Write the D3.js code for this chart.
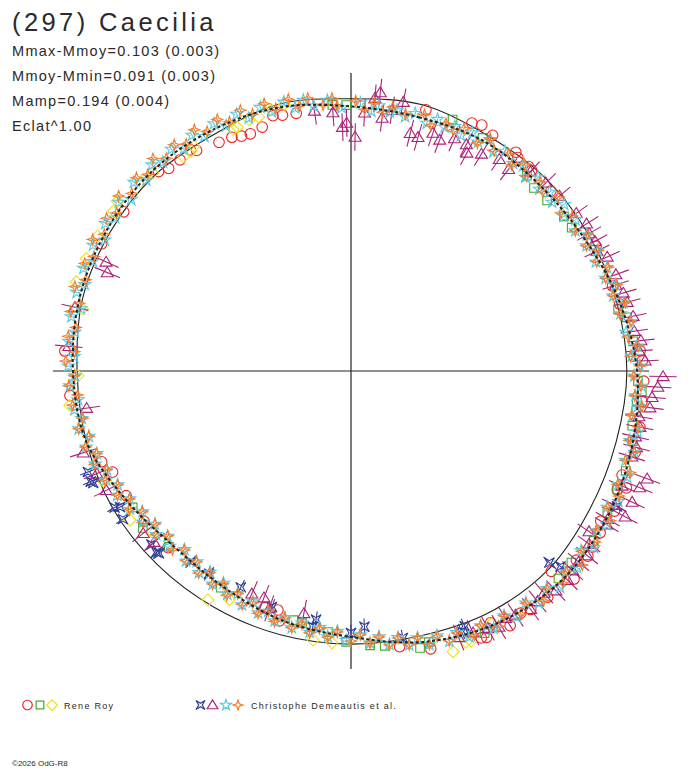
<!DOCTYPE html>
<html lang="en">
	<head>
		<meta charset="utf-8">
		<title>(297) Caecilia</title>
		<script src="https://d3js.org/d3.v7.min.js"></script>
		<style type="text/css">
		body { margin: 0; background: white; }
		text { font-family: "Liberation Sans", Arial, sans-serif; fill: #2a2a2a; }
		</style>
	</head>
	<body>
		<script type="text/javascript">

		//Width and height
		var w = 688;
		var h = 768;
		var cx = 351, cy = 371;

		// header texts
		var title = "(297) Caecilia";
		var infoLines = ["Mmax-Mmoy=0.103 (0.003)", "Mmoy-Mmin=0.091 (0.003)", "Mamp=0.194 (0.004)", "Eclat^1.00"];

		// phase (deg, clockwise from top) and relative radius (1 = reference circle)
		var curvePhase = [0,15,30,45,60,75,90,105,120,135,150,165,180,195,210,225,240,255,270,285,300,315,330,345];
		var fitR =   [0.962,0.955,0.965,0.963,0.975,1.007,1.040,1.058,1.073,1.080,1.060,1.020,0.967,0.942,0.913,0.906,0.942,0.996,1.011,1.022,1.025,1.025,1.011,0.993];
		var circleR = [0.990,1.002,0.990,0.996,0.996,0.998,1.003,0.998,1.003,1.018,1.012,0.996,0.993,0.993,0.993,0.996,1.000,0.996,0.996,1.011,1.011,1.008,0.994,1.005];

		// observers
		var redCircles = [[16,.988],[26,1.003],[28,1.013],[31,1.000],[37,.996],[38,.985],[41,.985],[42,.982],[48,.978],[63,1.000],[72,1.000],[76,1.007],[86,1.054],[88,1.060],[92,1.065],[96,1.064],[101,1.070],[106,1.075],[111,1.056],[113,1.088],[114,1.060],[118,1.085],[121,1.060],[123,1.080],[126,1.088],[128,1.093],[130,1.070],[133,1.109],[135,1.030],[139,1.090],[143,1.086],[145,1.075],[148,1.092],[151,1.047],[152,1.060],[153,1.087],[154,1.080],[164,1.051],[170,1.018],[196,.945],[197,.909],[200,.916],[226,.925],[234,.930],[241,.935],[247,.942],[250,.965],[265,1.026],[274,1.043],[297,1.018],[305,1.009],[316,1.008],[318,.991],[321,.988],[324,.994],[325,.979],[330,.960],[333,.954],[335,.942],[337,.937],[340,.944],[343,.971],[345,.963],[348,.958]];
		var greenSquares = [[356,.970],[359,.967],[22,.986],[29.5,.974],[42,.956],[45,.941],[49,.945],[54,.957],[57,.957],[77,.997],[79,1.022],[84,1.032],[92,1.044],[94,1.060],[96,1.045],[98,1.047],[101,1.042],[104,1.056],[110,1.063],[114,1.060],[119,1.066],[125,1.077],[131,1.062],[133,1.068],[135,1.067],[153,1.070],[164,1.026],[166,1.038],[173,1.007],[176,1.000],[181,.985],[185,.953],[191,.934],[193,.930],[211,.919],[226,.921],[233,.948],[238,.936]];
		var yellowDiamonds = [[346,1.000],[343,.993],[340,.983],[338,.986],[335,.978],[334,.977],[324,.989],[325,.997],[322,.989],[315,1.018],[312,1.028],[306,1.050],[304,1.041],[298,1.044],[293,1.046],[288,1.050],[283,1.002],[269,.993],[263,1.030],[246,.985],[236,.969],[231,.930],[212,.982],[208,.941],[188,.988],[184,.991],[160,1.086],[157,1.071],[156,1.075],[151,1.052]];
		var blueStars4 = [[249,1.025],[247,1.028],[246.5,1.022],[240,.993],[239.5,.975],[237,.989],[229,.962],[227,.967],[226.5,.963],[220,.905],[215,.900],[207,.883],[198.5,.905],[188,.913],[188.5,.940],[180,.953],[177,.931],[169,.989],[157,1.029],[156,1.016],[134,1.003],[133,1.042],[117,1.086]];
		var purpleTriangles = [[352,.955],[356,.942],[358,.887],[359,.902],[1,.851],[3,.940],[6,1.018],[5,.996],[7,.927],[9,.960],[11,.996],[14,.891],[16,.884],[19,.915],[21,.900],[24,.925],[27,.924],[28,.898],[31,.921],[35,.940],[38,.931],[42,.975],[46,.985],[50,.990],[55,1.000],[58,1.010],[60,1.000],[62,1.005],[64,.995],[66,1.020],[70,1.025],[72,1.012],[74,1.030],[76,1.035],[79,1.045],[82,1.040],[84,1.060],[86,1.050],[88,1.070],[91,1.135],[93,1.117],[95,1.099],[97,1.095],[99,1.060],[101,1.070],[103,1.062],[105,1.075],[107,1.068],[110,1.146],[112,1.132],[113,1.070],[115,1.128],[117,1.075],[118,1.129],[120,1.078],[121,1.085],[124,1.044],[126,1.070],[128,1.090],[130,1.080],[132,1.085],[134,1.095],[137,1.092],[139,1.070],[141,1.078],[143,1.085],[146,1.070],[148,1.060],[150,1.075],[152,1.060],[155,1.050],[158,1.045],[191,.898],[199,.913],[201,.883],[204,.887],[229,.949],[232,.959],[244,.990],[248,.997],[253,1.018],[262,.971],[275,1.030],[283,1.030],[292,.956],[294,.975]];
		var cyanStars = [[2,.975],[4.5,.948],[6,.970],[8.5,.952],[10,.962],[12,.946],[14,.965],[17,.942],[19,.968],[21,.950],[23,.966],[25,.945],[27,.972],[29,.952],[31,.982],[33,.950],[35,.976],[38,.958],[40,.975],[42,.948],[44,.980],[46,.952],[48,.972],[50,.955],[52,.984],[54,.956],[56,.985],[58,.962],[60,.990],[62,.970],[64,.998],[66,.975],[68,1.004],[70,.985],[72,1.012],[74,.992],[76,1.022],[78,1.002],[80,1.032],[82,1.010],[85,1.044],[87,1.022],[89,1.050],[91,1.030],[93,1.058],[95,1.038],[97,1.052],[99,1.036],[102,1.066],[104,1.046],[106,1.072],[108,1.050],[111,1.076],[113,1.056],[116,1.082],[118,1.055],[121,1.085],[123,1.066],[126,1.092],[128,1.062],[131,1.090],[133,1.070],[136,1.094],[138,1.064],[141,1.086],[143,1.056],[146,1.080],[148,1.050],[151,1.070],[153,1.040],[156,1.058],[158,1.026],[160,1.046],[162,1.012],[164,1.034],[166,1.000],[168,1.018],[170,.984],[172,1.004],[174,.972],[176,.992],[178,.960],[181,.980],[183,.948],[185,.970],[187,.940],[189,.962],[191,.934],[193,.958],[195,.928],[197,.950],[199,.924],[201,.942],[203,.912],[205,.938],[207,.908],[209,.928],[211,.900],[213,.924],[215,.893],[217,.918],[219,.892],[221,.915],[223,.888],[226,.918],[228,.898],[230,.925],[232,.905],[234,.935],[236,.915],[238,.948],[240,.930],[242,.963],[244,.944],[246,.975],[248,.957],[250,.990],[252,.972],[254,1.002],[256,.982],[258,1.012],[260,.994],[262,1.016],[264,.998],[267,1.024],[269,1.004],[271,1.028],[273,1.008],[276,1.032],[278,1.014],[281,1.036],[283,1.008],[286,1.038],[288,1.018],[291,1.042],[293,1.020],[296,1.044],[298,1.014],[301,1.042],[303,1.022],[306,1.044],[308,1.014],[311,1.046],[313,1.018],[316,1.042],[318,1.022],[321,1.038],[323,1.010],[326,1.034],[328,1.006],[331,1.028],[333,1.000],[336,1.022],[338,.992],[341,1.014],[343,.986],[346,1.008],[348,.978],[350,1.000],[352,.973],[355,.988],[358,.958]];
		var orangeStars4 = [[1,.982],[3,.952],[5,.978],[7,.948],[9,.972],[12,.955],[16,.970],[18,.940],[21,.964],[23,.950],[25,.972],[29,.948],[31,.984],[33,.956],[36,.976],[38,.950],[40,.982],[42,.954],[45,.972],[47,.954],[50,.984],[53,.956],[55,.982],[58,.962],[60,.994],[62,.970],[64,1.000],[66,.978],[68,1.008],[70,.986],[72,1.016],[74,.992],[76,1.028],[78,1.000],[80,1.034],[83,1.016],[85,1.048],[87,1.018],[89,1.052],[91,1.028],[93,1.056],[95,1.036],[97,1.066],[99,1.033],[101,1.064],[104,1.043],[106,1.072],[108,1.050],[110,1.080],[113,1.054],[115,1.076],[118,1.058],[120,1.088],[123,1.063],[125,1.084],[128,1.066],[130,1.098],[133,1.070],[135,1.090],[138,1.066],[140,1.090],[143,1.058],[145,1.078],[148,1.050],[150,1.072],[153,1.038],[155,1.060],[158,1.028],[160,1.044],[162,1.014],[164,1.034],[166,1.000],[168,1.018],[170,.986],[172,1.006],[174,.973],[176,.992],[178,.960],[180,.982],[183,.950],[185,.972],[187,.943],[189,.964],[191,.936],[193,.958],[195,.930],[197,.952],[199,.922],[201,.944],[203,.916],[205,.936],[207,.908],[209,.932],[211,.903],[213,.924],[215,.896],[217,.920],[219,.893],[221,.914],[223,.890],[225,.918],[228,.896],[230,.926],[232,.904],[234,.936],[236,.916],[238,.950],[240,.930],[242,.962],[244,.944],[246,.978],[248,.958],[250,.992],[252,.973],[254,1.004],[256,.983],[258,1.012],[260,.990],[263,1.020],[265,.998],[267,1.028],[269,1.006],[272,1.038],[274,1.008],[277,1.036],[279,1.013],[282,1.042],[284,1.018],[287,1.050],[289,1.020],[292,1.044],[294,1.023],[297,1.054],[299,1.026],[302,1.048],[304,1.028],[307,1.058],[309,1.026],[312,1.050],[314,1.028],[317,1.056],[319,1.024],[322,1.044],[324,1.020],[327,1.046],[329,1.016],[332,1.036],[334,1.008],[337,1.030],[339,1.000],[342,1.022],[344,.993],[347,1.014],[349,.983],[351,1.004],[354,.973],[356,.994],[357,.966]];

		var observerNames = ["Rene Roy", "Christophe Demeautis et al."];

		var angle = d3.scaleLinear().domain([0, 360]).range([0, 2 * Math.PI]);
		var radius = d3.scaleLinear().domain([0, 1]).range([0, 275]);
		var axisMax = 1.084;

		// marker shapes
		var symAstroid = { draw: function(c, size) {
			var s = Math.sqrt(size), k = 0.4 * s;
			c.moveTo(-s, -s); c.lineTo(0, -k); c.lineTo(s, -s); c.lineTo(k, 0);
			c.lineTo(s, s); c.lineTo(0, k); c.lineTo(-s, s); c.lineTo(-k, 0); c.closePath();
		}};
		var symSparkle = { draw: function(c, size) {
			var s = Math.sqrt(size), k = 0.25 * s;
			c.moveTo(0, -s); c.lineTo(k, -k); c.lineTo(s, 0); c.lineTo(k, k);
			c.lineTo(0, s); c.lineTo(-k, k); c.lineTo(-s, 0); c.lineTo(-k, -k); c.closePath();
		}};
		var symTri = { draw: function(c, size) {
			var s = Math.sqrt(size);
			c.moveTo(0, -s * 0.95); c.lineTo(s, s * 0.7); c.lineTo(-s, s * 0.7); c.closePath();
		}};
		var symDiamond = { draw: function(c, size) {
			var s = Math.sqrt(size);
			c.moveTo(0, -s); c.lineTo(s, 0); c.lineTo(0, s); c.lineTo(-s, 0); c.closePath();
		}};
		var symSquare = { draw: function(c, size) {
			var s = Math.sqrt(size);
			c.rect(-s, -s, 2 * s, 2 * s);
		}};
		var symCircle = { draw: function(c, size) {
			var s = Math.sqrt(size);
			c.moveTo(s, 0); c.arc(0, 0, s, 0, 2 * Math.PI);
		}};

		var series = [
			{ data: redCircles, type: symCircle, size: 5.3 * 5.3, color: "#ee2222", err: 0 },
			{ data: greenSquares, type: symSquare, size: 4.3 * 4.3, color: "#44aa33", err: 0 },
			{ data: yellowDiamonds, type: symDiamond, size: 6 * 6, color: "#eee020", err: 0 },
			{ data: blueStars4, type: symAstroid, size: 5 * 5, color: "#2f3f99", err: 0.03 },
			{ data: purpleTriangles, type: symTri, size: 6 * 6, color: "#aa2277", err: 0.05 },
			{ data: cyanStars, type: d3.symbolStar, size: 45, color: "#5ec8dc", err: 0.012 },
			{ data: orangeStars4, type: symSparkle, size: 5.5 * 5.5, color: "#f57a25", err: 0.008 }
		];

		//Create SVG element
		var svg = d3.select("body")
			.append("svg")
			.attr("width", w)
			.attr("height", h);

		// title and stats
		svg.append("text")
			.attr("x", 12).attr("y", 31)
			.style("font-size", "25.5px")
			.style("letter-spacing", "3.4px")
			.text(title);

		svg.selectAll("text.info")
			.data(infoLines)
			.enter()
			.append("text")
			.attr("class", "info")
			.attr("x", 12)
			.attr("y", function(d, i) { return 56 + i * 25; })
			.style("font-size", "14.5px")
			.style("letter-spacing", "1.3px")
			.text(function(d) { return d; });

		var plot = svg.append("g").attr("transform", "translate(" + cx + "," + cy + ")");

		// axes
		plot.append("line")
			.attr("x1", -radius(axisMax)).attr("x2", radius(axisMax))
			.attr("y1", 0).attr("y2", 0)
			.attr("stroke", "#222").attr("stroke-width", 1.2);
		plot.append("line")
			.attr("y1", -radius(axisMax)).attr("y2", radius(axisMax))
			.attr("x1", 0).attr("x2", 0)
			.attr("stroke", "#222").attr("stroke-width", 1.2);

		// reference circle
		var radialLine = d3.lineRadial()
			.angle(function(d, i) { return angle(curvePhase[i]); })
			.radius(function(d) { return radius(d); })
			.curve(d3.curveCardinalClosed);
		plot.append("path")
			.attr("d", radialLine(circleR))
			.attr("fill", "none")
			.attr("stroke", "#222")
			.attr("stroke-width", 1.1);

		// observations
		series.forEach(function(s) {
			var g = plot.append("g");
			if (s.err > 0) {
				g.selectAll("line")
					.data(s.data)
					.enter()
					.append("line")
					.attr("x1", function(d) { return d3.pointRadial(angle(d[0]), radius(d[1] - s.err))[0]; })
					.attr("y1", function(d) { return d3.pointRadial(angle(d[0]), radius(d[1] - s.err))[1]; })
					.attr("x2", function(d) { return d3.pointRadial(angle(d[0]), radius(d[1] + s.err))[0]; })
					.attr("y2", function(d) { return d3.pointRadial(angle(d[0]), radius(d[1] + s.err))[1]; })
					.attr("stroke", s.color)
					.attr("stroke-width", 1.1);
			}
			g.selectAll("path")
				.data(s.data)
				.enter()
				.append("path")
				.attr("transform", function(d) {
					return "translate(" + d3.pointRadial(angle(d[0]), radius(d[1])) + ")";
				})
				.attr("d", d3.symbol().type(s.type).size(s.size))
				.attr("fill", "none")
				.attr("stroke", s.color)
				.attr("stroke-width", 1.1);
		});

		// fitted curve
		plot.append("path")
			.attr("d", radialLine(fitR))
			.attr("fill", "none")
			.attr("stroke", "#222")
			.attr("stroke-width", 2)
			.attr("stroke-dasharray", "3,2.5");

		// legend
		var legend = svg.append("g").attr("transform", "translate(0,705)");
		var legendItems = [
			{ x: 27.5, s: series[0] }, { x: 40, s: series[1] }, { x: 52, s: series[2] },
			{ x: 200.5, s: series[3] }, { x: 212.5, s: series[4] }, { x: 226, s: series[5] }, { x: 238, s: series[6] }
		];
		legend.selectAll("path")
			.data(legendItems)
			.enter()
			.append("path")
			.attr("transform", function(d) { return "translate(" + d.x + ",0)"; })
			.attr("d", function(d) { return d3.symbol().type(d.s.type).size(d.s.size * 0.8)(); })
			.attr("fill", "none")
			.attr("stroke", function(d) { return d.s.color; })
			.attr("stroke-width", 1.2);

		legend.selectAll("text")
			.data(observerNames)
			.enter()
			.append("text")
			.attr("x", function(d, i) { return i === 0 ? 64 : 251; })
			.attr("y", 3.5)
			.style("font-size", "9px")
			.style("letter-spacing", "1.3px")
			.text(function(d) { return d; });

		svg.append("text")
			.attr("x", 12).attr("y", 766)
			.style("font-size", "8px")
			.text("\u00a92026 OdG-R8");

		</script>
	</body>
</html>
